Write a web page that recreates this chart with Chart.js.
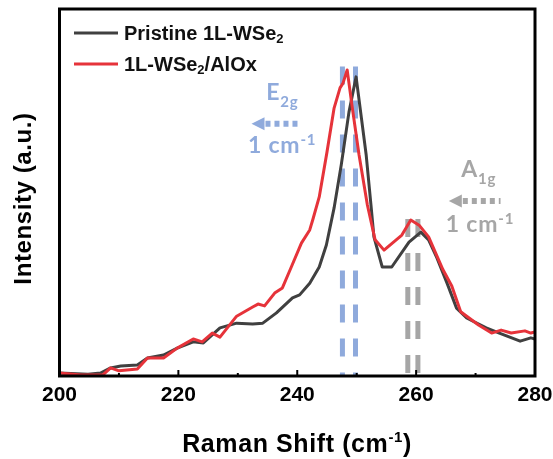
<!DOCTYPE html>
<html>
<head>
<meta charset="utf-8">
<script src="https://cdn.jsdelivr.net/npm/chart.js@4.4.1/dist/chart.umd.min.js"></script>
<style>
  html, body { margin: 0; padding: 0; background: #ffffff; }
  canvas { display: block; }
</style>
</head>
<body>
<canvas id="raman" width="553" height="459"></canvas>
<script>
// Raman spectra of monolayer WSe2 before and after AlOx deposition
const shiftTicks = [200, 220, 240, 260, 280];

const pristineShift = [200.0, 204.8, 206.9, 208.6, 210.3, 213.1, 214.8, 217.5, 219.8, 222.5, 224.2, 227.0,
  229.8, 232.5, 234.2, 236.5, 239.2, 240.4, 242.1, 243.7, 244.9, 246.2, 247.4, 248.7, 249.9, 251.6,
  252.4, 252.9, 254.3, 255.9, 258.8, 260.8, 262.1, 263.5, 265.2, 266.8, 268.5, 271.8, 274.0, 277.5,
  279.3, 280.0];
const pristineIntensity = [0.8, 0.5, 0.8, 2.2, 2.7, 3.0, 4.9, 5.7, 7.6, 9.3, 9.0, 13.1,
  14.4, 14.2, 14.4, 17.2, 21.3, 22.1, 25.3, 29.7, 35.7, 45.8, 57.5, 71.9, 81.5, 60.2,
  46.6, 37.9, 29.7, 29.7, 36.5, 39.2, 37.1, 32.2, 25.3, 18.5, 15.8, 13.1, 11.7, 9.5,
  10.4, 10.1];

const aloxShift = [200.0, 203.6, 207.3, 208.6, 210.0, 213.1, 214.8, 217.5, 219.8, 222.5, 224.0, 225.7,
  227.0, 229.8, 232.5, 233.4, 234.5, 236.2, 237.5, 239.0, 240.7, 242.1, 242.6, 243.7, 245.0, 246.2,
  247.2, 247.7, 248.4, 249.2, 250.4, 251.8, 253.1, 254.6, 257.6, 259.1, 260.5, 262.1, 264.5, 266.0,
  267.5, 270.5, 272.7, 274.3, 276.0, 278.3, 279.3, 280.0];
const aloxIntensity = [0.8, 0.3, 0.3, 2.2, 1.4, 1.9, 4.9, 4.9, 7.6, 10.1, 9.3, 11.7,
  10.6, 16.3, 18.8, 19.6, 19.1, 22.6, 24.0, 29.7, 36.2, 39.8, 42.5, 48.8, 61.0, 73.0,
  78.5, 79.8, 83.4, 73.8, 60.2, 46.6, 37.1, 34.3, 38.4, 42.5, 41.1, 37.9, 29.0, 24.5,
  17.5, 13.9, 11.7, 12.5, 11.7, 12.3, 11.7, 12.0];

// peak positions marked by dashed guides
const e2gPeaks = [247.6, 249.8];
const a1gPeaks = [258.6, 260.3];
const e2gGuideTop = 84.3;
const a1gGuideTop = 42.8;

const BLUE = '#8faadc';
const GRAY = '#a6a6a6';
const ARIAL = "'Liberation Sans', Arial, sans-serif";
const LABEL = "Lato, 'Open Sans', sans-serif";

function toPoints(xs, ys) { return xs.map((x, i) => ({ x: x, y: ys[i] })); }

function guide(x, top, color) {
  return {
    data: [{ x: x, y: top }, { x: x, y: 0 }],
    borderColor: color, borderWidth: 5, borderDash: [18, 16], borderCapStyle: 'butt',
    pointRadius: 0, tension: 0, order: 5
  };
}

// draws a run of text pieces, each with its own size and vertical offset
function richText(ctx, pieces, x, y, color, align) {
  ctx.save();
  ctx.fillStyle = color;
  ctx.textBaseline = 'alphabetic';
  ctx.textAlign = 'left';
  let total = 0;
  pieces.forEach(p => { ctx.font = p.font; total += ctx.measureText(p.t).width; });
  let cx = align === 'center' ? x - total / 2 : x;
  pieces.forEach(p => {
    ctx.font = p.font;
    ctx.fillText(p.t, cx, y + (p.dy || 0));
    cx += ctx.measureText(p.t).width;
  });
  ctx.restore();
}

function shiftArrow(ctx, tipX, tailX, y, color) {
  ctx.save();
  ctx.fillStyle = color;
  ctx.beginPath();
  ctx.moveTo(tipX, y);
  ctx.lineTo(tipX + 13, y - 6.5);
  ctx.lineTo(tipX + 13, y + 6.5);
  ctx.closePath();
  ctx.fill();
  ctx.strokeStyle = color;
  ctx.lineWidth = 6;
  ctx.setLineDash([5, 4]);
  ctx.beginPath();
  ctx.moveTo(tipX + 14, y);
  ctx.lineTo(tailX, y);
  ctx.stroke();
  ctx.restore();
}

const decorations = {
  id: 'decorations',
  afterDraw(chart) {
    const ctx = chart.ctx;
    const a = chart.chartArea;
    const xs = chart.scales.x;
    const ys = chart.scales.y;

    // frame
    ctx.save();
    ctx.strokeStyle = '#000';
    ctx.lineWidth = 3;
    ctx.strokeRect(a.left, a.top, a.right - a.left, a.bottom - a.top);

    // inward ticks on the shift axis
    ctx.lineWidth = 2;
    for (let v = 210; v < 280; v += 10) {
      const px = xs.getPixelForValue(v);
      const len = v % 20 === 0 ? 6 : 3;
      ctx.beginPath();
      ctx.moveTo(px, a.bottom);
      ctx.lineTo(px, a.bottom - len);
      ctx.stroke();
    }
    ctx.restore();

    // legend
    const ds = chart.data.datasets;
    const legendRows = [
      { ds: ds[0], y: 33, pieces: [{ t: 'Pristine 1L-WSe', font: 'bold 20px ' + ARIAL }, { t: '2', font: 'bold 13px ' + ARIAL, dy: 3 }] },
      { ds: ds[1], y: 64, pieces: [{ t: '1L-WSe', font: 'bold 20px ' + ARIAL }, { t: '2', font: 'bold 13px ' + ARIAL, dy: 3 }, { t: '/AlOx', font: 'bold 20px ' + ARIAL }] }
    ];
    legendRows.forEach(r => {
      ctx.save();
      ctx.strokeStyle = r.ds.borderColor;
      ctx.lineWidth = 3;
      ctx.beginPath();
      ctx.moveTo(74, r.y);
      ctx.lineTo(118, r.y);
      ctx.stroke();
      ctx.restore();
      richText(ctx, r.pieces, 124, r.y + 7, '#111', 'left');
    });

    // axis titles
    ctx.save();
    ctx.letterSpacing = '0.6px';
    richText(ctx, [
      { t: 'Raman Shift (cm', font: 'bold 25px ' + ARIAL },
      { t: '-1', font: 'bold 15px ' + ARIAL, dy: -10 },
      { t: ')', font: 'bold 25px ' + ARIAL }
    ], 297, 452, '#000', 'center');
    ctx.restore();

    ctx.save();
    ctx.translate(31, 198.5);
    ctx.rotate(-Math.PI / 2);
    ctx.letterSpacing = '0.6px';
    richText(ctx, [{ t: 'Intensity (a.u.)', font: 'bold 24px ' + ARIAL }], 0, 0, '#000', 'center');
    ctx.restore();

    // mode labels with shift arrows
    const px = v => xs.getPixelForValue(v);
    const py = v => ys.getPixelForValue(v);
    ctx.save();
    ctx.letterSpacing = '0.8px';
    richText(ctx, [
      { t: 'E', font: 'bold 23px ' + LABEL },
      { t: '2g', font: 'bold 15px ' + LABEL, dy: 7 }
    ], px(234.8), py(75.2), BLUE, 'left');
    richText(ctx, [
      { t: '1 cm', font: 'bold 23px ' + LABEL },
      { t: '-1', font: 'bold 15px ' + LABEL, dy: -8 }
    ], px(231.7), py(60.8), BLUE, 'left');
    richText(ctx, [
      { t: 'A', font: 'bold 23px ' + LABEL },
      { t: '1g', font: 'bold 15px ' + LABEL, dy: 7 }
    ], px(267.6), py(54.2), GRAY, 'left');
    richText(ctx, [
      { t: '1 cm', font: 'bold 23px ' + LABEL },
      { t: '-1', font: 'bold 15px ' + LABEL, dy: -8 }
    ], px(265.0), py(39.2), GRAY, 'left');
    ctx.restore();
    shiftArrow(ctx, px(232.3), px(240.7), py(68.7), BLUE);
    shiftArrow(ctx, px(265.5), px(274.2), py(47.7), GRAY);
  }
};

new Chart(document.getElementById('raman'), {
  type: 'line',
  data: {
    datasets: [
      {
        label: 'Pristine 1L-WSe2',
        data: toPoints(pristineShift, pristineIntensity),
        borderColor: '#404040', borderWidth: 3, pointRadius: 0, tension: 0,
        borderJoinStyle: 'round', order: 2
      },
      {
        label: '1L-WSe2/AlOx',
        data: toPoints(aloxShift, aloxIntensity),
        borderColor: '#e6333a', borderWidth: 3, pointRadius: 0, tension: 0,
        borderJoinStyle: 'round', order: 1
      },
      guide(e2gPeaks[0], e2gGuideTop, BLUE),
      guide(e2gPeaks[1], e2gGuideTop, BLUE),
      guide(a1gPeaks[0], a1gGuideTop, GRAY),
      guide(a1gPeaks[1], a1gGuideTop, GRAY)
    ]
  },
  options: {
    responsive: false,
    animation: false,
    layout: { padding: { top: 9, right: 18, left: 0, bottom: 0 } },
    plugins: { legend: { display: false }, tooltip: { enabled: false } },
    scales: {
      x: {
        type: 'linear', min: 200, max: 280,
        afterBuildTicks: s => { s.ticks = shiftTicks.map(v => ({ value: v })); },
        afterFit: s => { s.height = 83; s.paddingLeft = 0; s.paddingRight = 0; },
        grid: { display: false, drawTicks: false },
        border: { display: false },
        ticks: { color: '#000', padding: 7, font: { family: ARIAL, size: 21, weight: 'bold' } }
      },
      y: {
        min: 0, max: 100,
        afterFit: s => { s.width = 59.5; },
        grid: { display: false, drawTicks: false },
        border: { display: false },
        ticks: { display: false }
      }
    }
  },
  plugins: [decorations]
});
</script>
</body>
</html>
